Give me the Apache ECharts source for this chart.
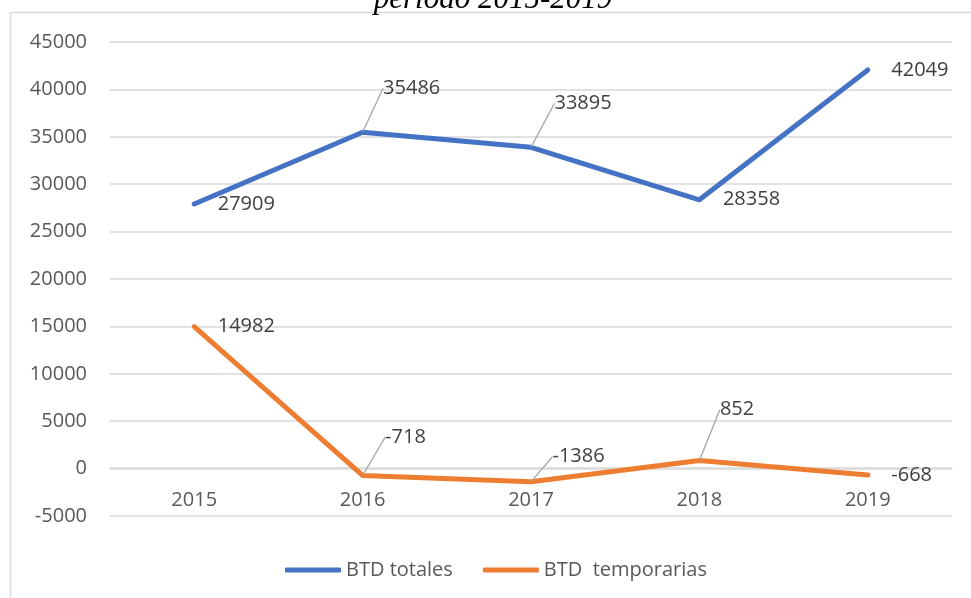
<!DOCTYPE html>
<html>
<head>
<meta charset="utf-8">
<script src="https://cdn.jsdelivr.net/npm/echarts@6/dist/echarts.min.js"></script>
<style>
html,body{margin:0;padding:0;background:#fff;}
#c{width:971px;height:598px;}
</style>
</head>
<body>
<div id="c"></div>
<script>
var years = ['2015', '2016', '2017', '2018', '2019'];
var btdTotales = [27909, 35486, 33895, 28358, 42049];
var btdTemporarias = [14982, -718, -1386, 852, -668];
var seriesNames = ['BTD totales', 'BTD  temporarias'];
var yTicks = {min: -5000, max: 45000, interval: 5000};

// label displacement (layout only)
var moves = {
  '0-1': [-3, -44], '0-2': [0, -44],
  '1-1': [-1, -38], '1-2': [-2, -25], '1-3': [-3, -51]
};

var chart = echarts.init(document.getElementById('c'), null, {renderer: 'canvas'});
var font = 'Open Sans';
function mkSeries(name, data, color, sIdx) {
  var items = data.map(function (v, i) {
    var moved = !!moves[sIdx + '-' + i];
    return {value: v, labelLine: {show: moved}};
  });
  return {
    name: name,
    type: 'line',
    data: items,
    symbol: 'circle',
    symbolSize: 1,
    showSymbol: true,
    lineStyle: {width: 5, color: color, cap: 'round', join: 'round'},
    itemStyle: {color: color},
    label: {show: true, position: 'right', distance: 23, color: '#404040', fontSize: 20, fontFamily: font,
            formatter: function (p) { return String(p.value); }},
    labelLine: {show: false, lineStyle: {color: '#a6a6a6', width: 1.3}},
    labelLayout: function (p) {
      var m = moves[sIdx + '-' + p.dataIndex];
      return m ? {dx: m[0], dy: m[1]} : {};
    },
    emphasis: {disabled: true},
    animation: false
  };
}
chart.setOption({
  backgroundColor: '#fff',
  animation: false,
  grid: {left: 110, right: 19, top: 42, bottom: 82},
  xAxis: {
    type: 'category', data: years, boundaryGap: true,
    offset: -48,
    axisLine: {onZero: false, lineStyle: {color: '#d9d9d9', width: 1.5}},
    axisTick: {show: false},
    axisLabel: {color: '#595959', fontSize: 20, fontFamily: font, margin: 22}
  },
  yAxis: {
    type: 'value', min: yTicks.min, max: yTicks.max, interval: yTicks.interval,
    axisLine: {show: false}, axisTick: {show: false},
    splitLine: {lineStyle: {color: '#d9d9d9', width: 1.5}},
    axisLabel: {color: '#595959', fontSize: 20, fontFamily: font, margin: 23,
                formatter: function (v) { return String(v); }}
  },
  legend: {
    left: 280, top: 555, itemWidth: 56, itemHeight: 5, itemGap: 30,
    icon: 'roundRect',
    textStyle: {color: '#595959', fontSize: 20, fontFamily: font},
    data: seriesNames
  },
  graphic: [
    {type: 'rect', z: -10, shape: {x: 10.5, y: 12.5, width: 1000, height: 700},
     style: {fill: 'none', stroke: '#d9d9d9', lineWidth: 1.5}},
    {type: 'text', z: 10, x: 493, y: 15,
     style: {text: 'período 2015-2019', fontFamily: 'Liberation Serif', fontStyle: 'italic',
             fontSize: 31, fill: '#000', align: 'center', verticalAlign: 'bottom'}}
  ],
  series: [
    mkSeries(seriesNames[0], btdTotales, '#4472C4', 0),
    mkSeries(seriesNames[1], btdTemporarias, '#ED7D31', 1)
  ]
});
</script>
</body>
</html>
